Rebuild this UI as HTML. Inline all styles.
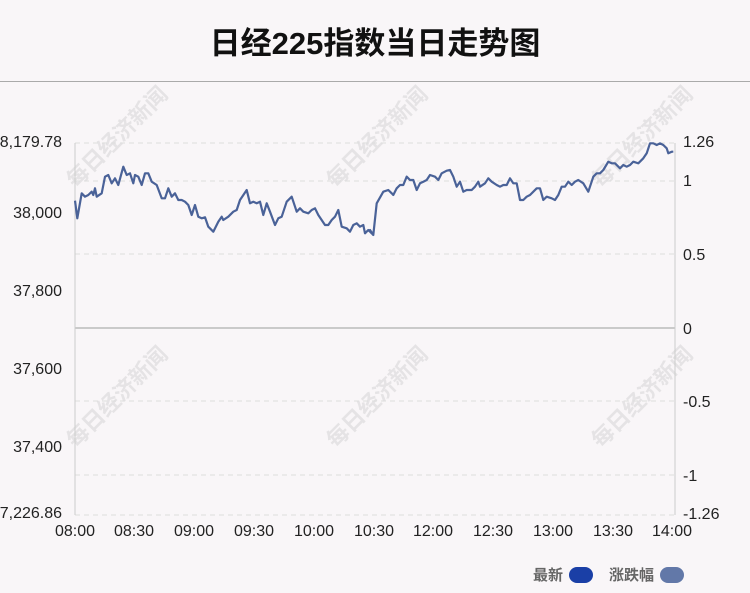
<!DOCTYPE html><html><head><meta charset="utf-8"><style>
body{margin:0;background:#f9f6f8;font-family:"Liberation Sans","Noto Sans CJK SC",sans-serif}
.wm{position:absolute;font-size:22px;color:rgba(200,200,200,0.4);transform:rotate(-45deg);font-weight:bold;white-space:nowrap}
</style></head><body>
<div style="position:relative;width:750px;height:593px;overflow:hidden">
<div style="position:absolute;top:18px;left:0;width:750px;text-align:center;font-size:31px;font-weight:bold;color:#111">日经225指数当日走势图</div>
<div style="position:absolute;top:81px;left:0;width:750px;height:1px;background:#aaa"></div>
<div class="wm" style="left:50px;top:120px">每日经济新闻</div>
<div class="wm" style="left:310px;top:120px">每日经济新闻</div>
<div class="wm" style="left:575px;top:120px">每日经济新闻</div>
<div class="wm" style="left:50px;top:380px">每日经济新闻</div>
<div class="wm" style="left:310px;top:380px">每日经济新闻</div>
<div class="wm" style="left:575px;top:380px">每日经济新闻</div>
<svg width="750" height="593" style="position:absolute;left:0;top:0" font-family="Liberation Sans, sans-serif" font-size="16" fill="#222">
<g stroke="#ddd" stroke-dasharray="5,4">
<line x1="75" x2="675" y1="143" y2="143"/><line x1="75" x2="675" y1="181" y2="181"/><line x1="75" x2="675" y1="254" y2="254"/>
<line x1="75" x2="675" y1="401" y2="401"/><line x1="75" x2="675" y1="475" y2="475"/><line x1="75" x2="675" y1="515" y2="515"/>
</g>
<line x1="75" x2="675" y1="328" y2="328" stroke="#bbb" stroke-width="1.5"/>
<line x1="75" x2="75" y1="143" y2="515" stroke="#ccc"/><line x1="675" x2="675" y1="143" y2="515" stroke="#ccc"/>
<g text-anchor="end"><text x="62" y="147">8,179.78</text><text x="62" y="218">38,000</text><text x="62" y="296">37,800</text><text x="62" y="374">37,600</text><text x="62" y="452">37,400</text><text x="62" y="518">7,226.86</text></g>
<g><text x="683" y="147">1.26</text><text x="683" y="186">1</text><text x="683" y="260">0.5</text><text x="683" y="334">0</text><text x="683" y="407">-0.5</text><text x="683" y="481">-1</text><text x="683" y="519">-1.26</text></g>
<g text-anchor="middle"><text x="75" y="536">08:00</text><text x="134" y="536">08:30</text><text x="194" y="536">09:00</text><text x="254" y="536">09:30</text><text x="314" y="536">10:00</text><text x="374" y="536">10:30</text><text x="433" y="536">12:00</text><text x="493" y="536">12:30</text><text x="553" y="536">13:00</text><text x="613" y="536">13:30</text><text x="672" y="536">14:00</text></g>
<path id="ln" fill="none" stroke="#4a6298" stroke-width="2.2" stroke-linejoin="round"/>
<text x="533" y="580" fill="#666" font-size="15" font-weight="bold" font-family="Liberation Sans, Noto Sans CJK SC, sans-serif">最新</text>
<rect x="569" y="567" width="24" height="16" rx="8" fill="#1a3fa6"/>
<text x="609" y="580" fill="#666" font-size="15" font-weight="bold" font-family="Liberation Sans, Noto Sans CJK SC, sans-serif">涨跌幅</text>
<rect x="660" y="567" width="24" height="16" rx="8" fill="#6278a8"/>
</svg>
</div>
<script>
var a=[45,212,52,265,65,190,75,200,85,195,95,185,100,195,105,175,110,200,125,190,135,140,145,135,155,160,165,145,175,165,190,110,200,135,210,130,220,160,225,135,235,140,245,165,255,130,265,130,275,155,290,165,305,205,315,205,325,175,335,200,345,190,355,210,365,210,375,215,385,225,395,255,405,225,415,260,425,265,435,262,445,290,460,305,475,275,485,260,490,270,505,260,520,245,530,240,540,210,560,180,570,220,580,215,590,220,600,215,610,255,620,220,630,245,645,285,655,265,665,260,680,215,695,200,710,245,720,235,730,245,745,250,755,240,765,235,775,255,795,285,805,285,815,270,825,260,835,240,845,290,860,295,870,305,880,285,890,280,900,290,910,285,915,310,925,300,935,310,940,315];
var b=[0,300,10,315,20,220,40,185,55,180,65,190,70,195,80,175,90,165,100,165,110,140,120,150,130,150,140,180,150,160,160,155,170,150,180,135,195,140,205,150,215,130,230,122,240,120,250,140,260,170,270,155,280,185,290,180,305,180,315,170,325,155,330,170,345,160,355,145,365,155,380,165,390,170,400,165,410,165,420,145,430,160,440,160,450,210,460,210,470,200,480,195,500,175,510,175,520,210,530,200,545,205,555,210,565,195,575,170,585,170,595,155,605,165,615,155,625,150,640,160,655,185,670,140,680,130,690,130,700,120,715,95,725,100,735,100,750,115,760,105,770,110,780,105,790,95,805,100,820,85,830,70,840,40,850,40,860,45,870,40,880,45,890,55,895,70,905,65,910,65];
var d="";for(var i=0;i<a.length;i+=2)d+=(i?"L":"M")+(60+a[i]/3).toFixed(1)+","+(130+a[i+1]/3).toFixed(1);
for(var i=0;i<b.length;i+=2)d+="L"+(370+b[i]/3).toFixed(1)+","+(130+b[i+1]/3).toFixed(1);
document.getElementById("ln").setAttribute("d",d);
</script>
</body></html>
